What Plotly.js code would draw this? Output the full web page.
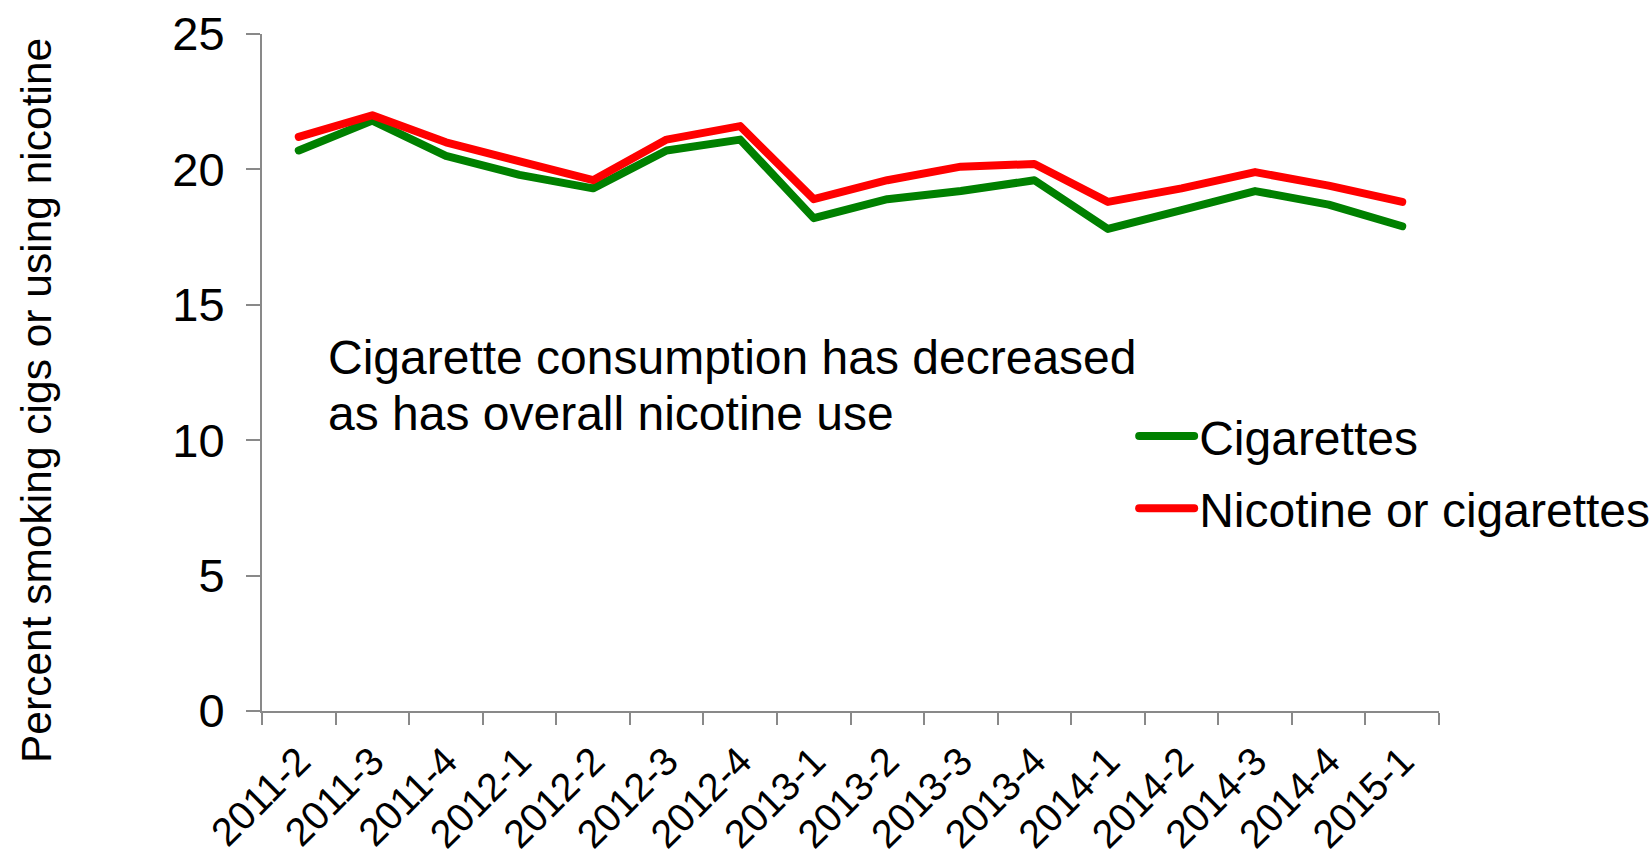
<!DOCTYPE html>
<html>
<head>
<meta charset="utf-8">
<script src="https://cdn.plot.ly/plotly-3.0.1.min.js"></script>
<style>
html,body{margin:0;padding:0;background:#fff;}
#chart{width:1652px;height:858px;}
.js-line{stroke-linecap:round;stroke-linejoin:round;}
</style>
</head>
<body>
<div id="chart"></div>
<script>
const quarters = ["2011-2","2011-3","2011-4","2012-1","2012-2","2012-3","2012-4","2013-1","2013-2","2013-3","2013-4","2014-1","2014-2","2014-3","2014-4","2015-1"];
const cigarettes = [20.7,21.8,20.5,19.8,19.3,20.7,21.1,18.2,18.9,19.2,19.6,17.8,18.5,19.2,18.7,17.9];
const nicotineOrCigarettes = [21.2,22.0,21.0,20.3,19.6,21.1,21.6,18.9,19.6,20.1,20.2,18.8,19.3,19.9,19.4,18.8];
const yTicks = [0,5,10,15,20,25];
const noteLines = ["Cigarette consumption has decreased", "as has overall nicotine use"];

const font = "Arial, 'Liberation Sans', sans-serif";
const traces = [
  {x: quarters, y: cigarettes, name: "Cigarettes", type: "scatter", mode: "lines", legendgroup: "a",
   line: {color: "#008000", width: 8}},
  {x: quarters, y: nicotineOrCigarettes, name: "Nicotine or cigarettes", type: "scatter", mode: "lines", legendgroup: "b",
   line: {color: "#FF0000", width: 8}}
];
const L = 262, R = 213, T = 34, B = 147, W = 1652, H = 858;
const pw = W - L - R, ph = H - T - B;
const py = (yPix) => (H - B - yPix) / ph;
const layout = {
  width: W, height: H,
  margin: {l: L, r: R, t: T, b: B, autoexpand: false},
  paper_bgcolor: "#fff", plot_bgcolor: "#fff",
  font: {family: font, color: "#000"},
  showlegend: true,
  legend: {x: 0.741, y: 0.462, xanchor: "left", yanchor: "top", font: {size: 48, family: font},
           bgcolor: "rgba(0,0,0,0)", traceorder: "grouped", tracegroupgap: 7, itemwidth: 55},
  xaxis: {
    type: "category", range: [-0.5, quarters.length - 0.5], tickson: "boundaries",
    ticks: "outside", ticklen: 12, tickwidth: 2, automargin: false,
    tickcolor: "#898989", showline: true, linecolor: "#898989", linewidth: 2,
    showgrid: false, zeroline: false, tickangle: -45, tickfont: {size: 39.5, family: font},
    ticklabelstandoff: 9
  },
  yaxis: {
    range: [0, 25], tickvals: yTicks, ticks: "outside", ticklen: 14, tickwidth: 2, automargin: false,
    tickcolor: "#898989", showline: true, linecolor: "#898989", linewidth: 2,
    showgrid: false, zeroline: false, tickfont: {size: 47, family: font},
    ticklabelstandoff: 12
  },
  annotations: [{
    xref: "paper", yref: "paper", x: 0.054, y: py(358), xanchor: "left", yanchor: "middle",
    align: "left", showarrow: false, text: noteLines[0],
    font: {size: 48, family: font, color: "#000"}
  }, {
    xref: "paper", yref: "paper", x: 0.054, y: py(414), xanchor: "left", yanchor: "middle",
    align: "left", showarrow: false, text: noteLines[1],
    font: {size: 48, family: font, color: "#000"}
  }, {
    xref: "paper", yref: "paper", x: (37 - L) / pw, y: py(401), xanchor: "center", yanchor: "middle",
    textangle: -90, showarrow: false,
    text: "Percent smoking cigs or using nicotine",
    font: {size: 42.5, family: font, color: "#000"}
  }]
};
Plotly.newPlot("chart", traces, layout, {displayModeBar: false, staticPlot: true});
</script>
</body>
</html>
